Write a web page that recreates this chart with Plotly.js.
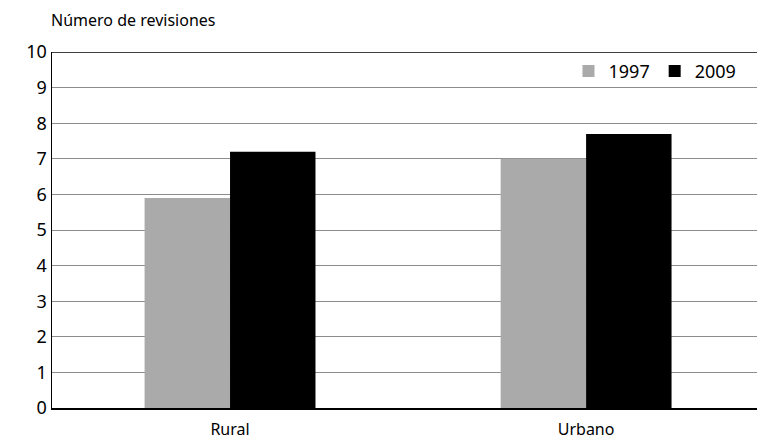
<!DOCTYPE html>
<html><head><meta charset="utf-8">
<script src="https://cdn.plot.ly/plotly-3.0.1.min.js"></script>
<style>body{margin:0;background:#fff}</style>
</head><body>
<div id="chart" style="width:757px;height:443px"></div>
<script>
const categories = ["Rural", "Urbano"];
const series1997 = [5.9, 7.0];
const series2009 = [7.2, 7.7];
const seriesNames = ["1997", "2009"];
const yTicks = [0,1,2,3,4,5,6,7,8,9,10];

const font = "Noto Sans, Open Sans, sans-serif";
const data = [
  {type:"bar", name:seriesNames[0], x:categories, y:series1997, marker:{color:"#aaaaaa"}},
  {type:"bar", name:seriesNames[1], x:categories, y:series2009, marker:{color:"#000000"}}
];
const layout = {
  width:757, height:443,
  margin:{l:52, r:0, t:52, b:35},
  paper_bgcolor:"#fff", plot_bgcolor:"#fff",
  font:{family:font, color:"#000", size:17},
  barmode:"group", bargap:0.52, bargroupgap:0,
  showlegend:true,
  legend:{orientation:"h", x:0.978, xanchor:"right", y:0.998, yanchor:"top",
          font:{size:18}, bgcolor:"rgba(0,0,0,0)", itemwidth:30, traceorder:"normal"},
  xaxis:{type:"category", range:[-0.5, 1.48], showline:true, linecolor:"#000", linewidth:1.5,
         ticks:"", tickfont:{size:16}, ticklabelstandoff:6, showgrid:false, zeroline:false},
  yaxis:{range:[0,10], tickvals:yTicks, ticktext:yTicks.map(String), showline:true, linecolor:"#000", linewidth:1.5,
         gridcolor:"#8c8c8c", gridwidth:1, ticks:"", ticklen:0, tickfont:{size:18}, zeroline:false, fixedrange:true},
  shapes:[{type:"line", xref:"paper", yref:"y", x0:0, x1:1, y0:10, y1:10, line:{color:"#000", width:1.5}}],
  annotations:[{text:"Número de revisiones", xref:"paper", yref:"paper", x:-0.004, y:1.052, xanchor:"left", yanchor:"bottom",
                showarrow:false, font:{size:16}}]
};
Plotly.newPlot("chart", data, layout, {displayModeBar:false, staticPlot:true});
</script>
</body></html>
